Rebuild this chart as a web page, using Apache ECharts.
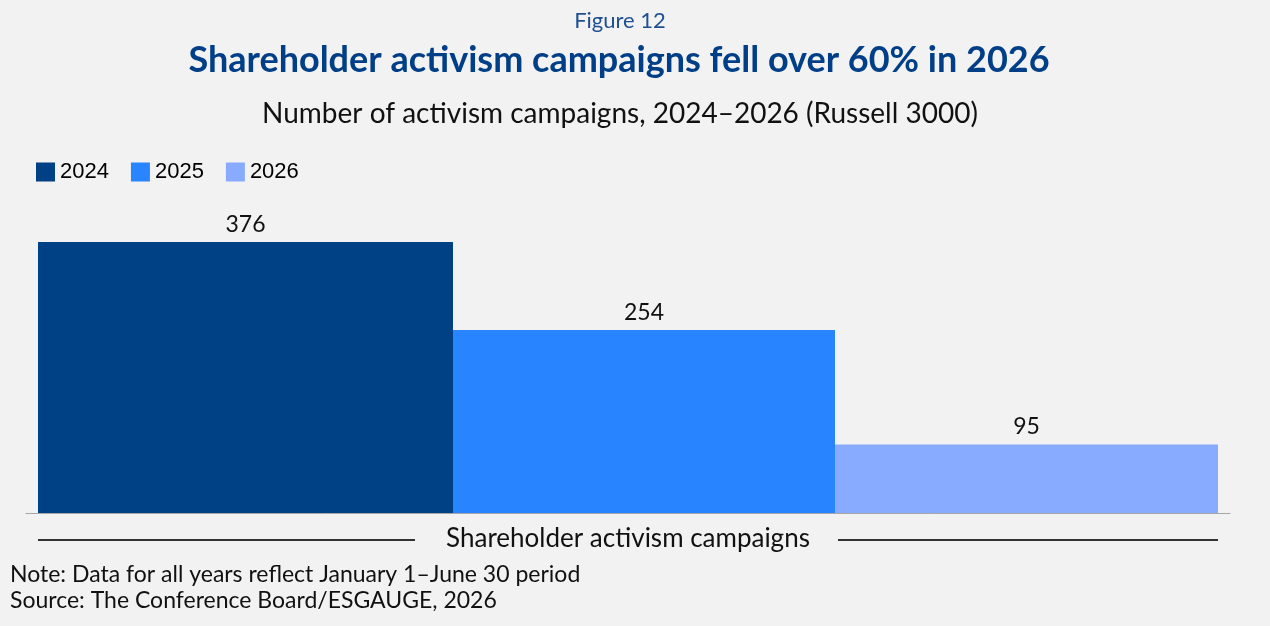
<!DOCTYPE html>
<html lang="en">
  <head>
    <meta charset="UTF-8" />
    <title>Shareholder activism campaigns</title>
    <script src="https://cdn.jsdelivr.net/npm/echarts@6.0.0/dist/echarts.min.js"></script>
    <style>
      html, body { margin: 0; padding: 0; background: #f2f2f2; }
      #main { width: 1270px; height: 626px; }
    </style>
  </head>
  <body>
    <div id="main"></div>

    <script>
      const categories = ['Shareholder activism campaigns'];
      const years = ['2024', '2025', '2026'];
      const values2024 = [376];
      const values2025 = [254];
      const values2026 = [95];

      const colors = ['#004084', '#2984ff', '#88abff'];
      const barWidths = [415, 382, 383];
      const seriesValues = [values2024, values2025, values2026];

      const avenir = 'Lato, "Noto Sans", sans-serif';

      var myChart = echarts.init(document.querySelector('#main'));

      const options = {
        backgroundColor: '#f2f2f2',
        animation: false,
        title: [
          {
            text: 'Figure 12',
            left: 615,
            textAlign: 'center',
            top: 5,
            textStyle: { fontFamily: avenir, fontSize: 22, fontWeight: 'normal', color: '#1f4f93' },
          },
          {
            text: 'Shareholder activism campaigns fell over 60% in 2026',
            left: 614,
            textAlign: 'center',
            top: 37,
            textStyle: { fontFamily: avenir, fontSize: 36, fontWeight: 'bold', color: '#003f87' },
          },
          {
            text: 'Number of activism campaigns, 2024–2026 (Russell 3000)',
            left: 615,
            textAlign: 'center',
            top: 95,
            textStyle: { fontFamily: avenir, fontSize: 28, fontWeight: 'normal', color: '#111' },
          },
          {
            text: 'Note: Data for all years reflect January 1–June 30 period\nSource: The Conference Board/ESGAUGE, 2026',
            left: 5,
            top: 557,
            textStyle: { fontFamily: avenir, fontSize: 23, fontWeight: 'normal', color: '#111', lineHeight: 26 },
          },
        ],
        legend: {
          left: 31,
          top: 156,
          itemWidth: 19,
          itemHeight: 19,
          itemGap: 22,
          icon: 'rect',
          data: years,
          textStyle: { fontFamily: '"Liberation Sans", Arial, sans-serif', fontSize: 22, color: '#000' },
        },
        grid: {
          left: 26,
          right: 40,
          top: 196,
          bottom: 113,
        },
        xAxis: {
          type: 'category',
          data: categories,
          axisLine: { lineStyle: { color: '#a6a6a6', width: 1 } },
          axisTick: { show: false },
          axisLabel: {
            margin: 13,
            fontFamily: avenir,
            fontSize: 26,
            color: '#111',
          },
        },
        yAxis: {
          type: 'value',
          min: 0,
          max: 440,
          show: false,
          splitLine: { show: false },
        },
        series: years.map((year, i) => ({
          name: year,
          type: 'bar',
          data: seriesValues[i],
          barWidth: barWidths[i],
          barGap: '0%',
          itemStyle: { color: colors[i] },
          label: {
            show: true,
            position: 'top',
            distance: 6,
            fontFamily: avenir,
            fontSize: 23,
            color: '#111',
          },
        })),
        graphic: [
          {
            type: 'line',
            shape: { x1: 38, y1: 540, x2: 415, y2: 540 },
            style: { stroke: '#333', lineWidth: 2 },
          },
          {
            type: 'line',
            shape: { x1: 838, y1: 540, x2: 1218, y2: 540 },
            style: { stroke: '#333', lineWidth: 2 },
          },
        ],
      };

      myChart.setOption(options);

      window.onresize = function () {
        myChart.resize();
      };
    </script>
  </body>
</html>
